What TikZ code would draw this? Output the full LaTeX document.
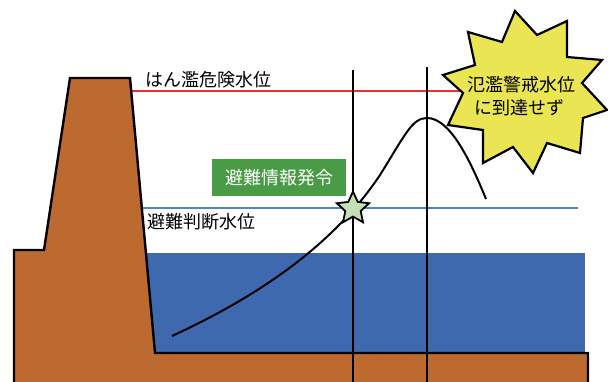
\documentclass[tikz,border=0pt]{standalone}
\usepackage{fontspec}
\newfontfamily\jpfont{Noto Sans CJK JP}
\usetikzlibrary{shapes.geometric}
\definecolor{earth}{RGB}{188,106,48}
\definecolor{river}{RGB}{63,105,174}
\definecolor{dangerred}{RGB}{232,50,45}
\definecolor{judgeblue}{RGB}{74,134,200}
\definecolor{alertgreen}{RGB}{74,155,69}
\definecolor{starfill}{RGB}{197,224,180}
\definecolor{burstfill}{RGB}{233,229,83}
\tikzset{
  soil/.style={fill=earth, draw=black, line width=2.4pt, line join=miter},
  waterbody/.style={fill=river, draw=none},
  levelline/.style={line width=2pt},
  timeline/.style={draw=black, line width=1.8pt},
  hydro/.style={draw=black, line width=2pt},
  lbl/.style={font=\jpfont\fontsize{18}{22}\selectfont, inner sep=0pt, anchor=base west},
  notice/.style={fill=alertgreen, text=white, font=\jpfont\fontsize{18}{22}\selectfont,
    minimum width=134pt, minimum height=37pt, inner sep=0pt},
  marker/.style={star, star points=5, star point ratio=2.1, minimum size=34pt,
    inner sep=0pt, fill=starfill, draw=black, line width=1.8pt},
  burstshape/.style={fill=burstfill, draw=black, line width=2.2pt, line join=miter},
  bursttext/.style={font=\jpfont\fontsize{18}{22}\selectfont, inner sep=0pt, anchor=base}
}
\begin{document}
\begin{tikzpicture}[x=1pt, y=-1pt]
\useasboundingbox (0,0) rectangle (608,382);

% river water
\fill[waterbody] (140,253) rectangle (585,353);

% water level lines
\draw[levelline, dangerred] (128,91) -- (470,91);
\draw[levelline, judgeblue] (138,208) -- (578,208);

% embankment and river bed
\draw[soil] (14,390) -- (14,250) -- (44,250) -- (70,78) -- (130,78)
  -- (155,353) -- (588,353) -- (588,390);

% time markers
\coordinate (t1top) at (353,70);
\coordinate (t1bot) at (353,384);
\coordinate (t2top) at (427,67);
\coordinate (t2bot) at (427,384);
\draw[timeline] (t1top) -- (t1bot);
\draw[timeline] (t2top) -- (t2bot);

% water level hydrograph
\coordinate (h0) at (172,336);
\coordinate (h1) at (380,175);
\coordinate (hpeak) at (427,118);
\coordinate (h2) at (486,199);
\draw[hydro] (h0) .. controls (250,300) and (330,250) .. (h1)
  .. controls (405,135) and (412,118) .. (hpeak)
  .. controls (450,118) and (470,160) .. (h2);

% labels
\node[lbl] (danger) at (145,87) {はん濫危険水位};
\node[lbl] (judge) at (147,229) {避難判断水位};
\node[notice] (issue) at (279,177.5) {避難情報発令};
\node[marker] (hit) at (353,208.5) {};

% callout burst
\draw[burstshape] (515,11) -- (537,35) -- (567,21) -- (567,57) -- (602,60)
  -- (582,83) -- (607,110) -- (583,118) -- (580,153) -- (547,143)
  -- (533,173) -- (513,147) -- (483,163) -- (483,130) -- (448,125)
  -- (463,93) -- (443,75) -- (475,65) -- (468,32) -- (502,42) -- cycle;
\node[bursttext] (nolevel1) at (521,92) {氾濫警戒水位};
\node[bursttext] (nolevel2) at (519,115) {に到達せず};
\end{tikzpicture}
\end{document}
